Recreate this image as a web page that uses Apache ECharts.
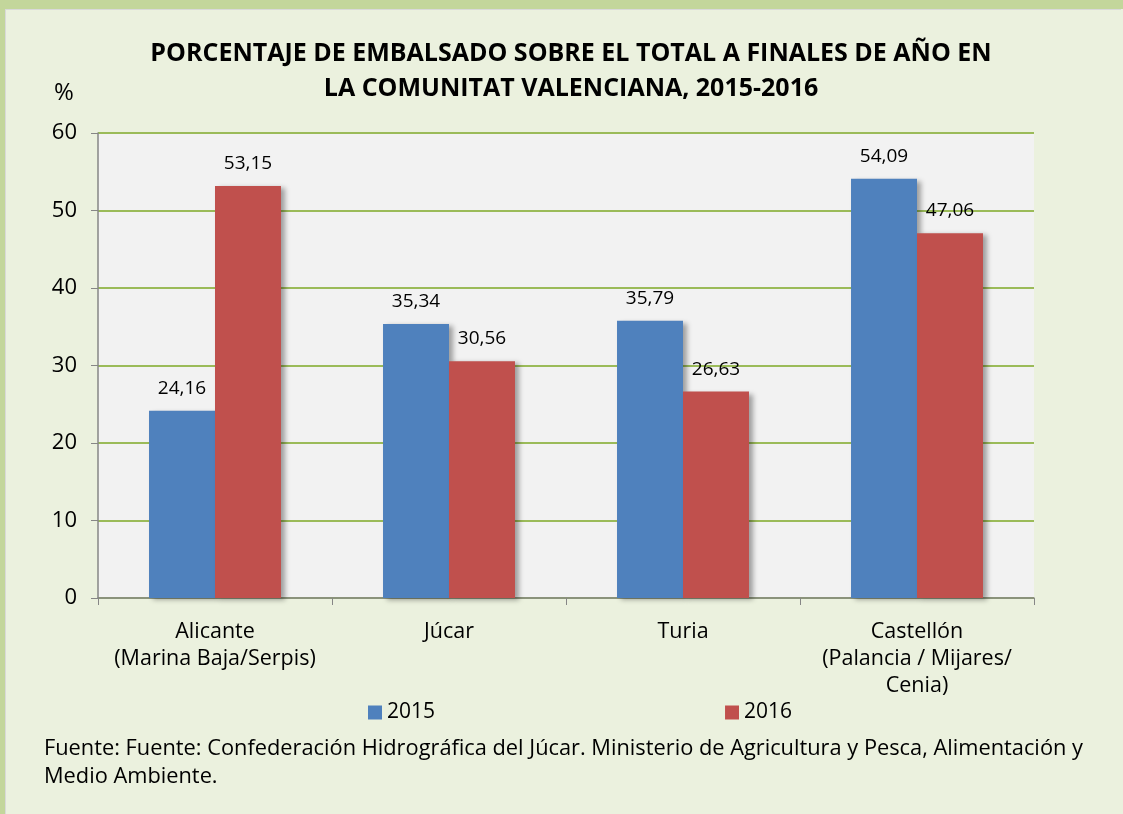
<!DOCTYPE html>
<html lang="es">
<head>
    <meta charset="utf-8">
    <title>Porcentaje de embalsado</title>
    <script src="https://cdn.jsdelivr.net/npm/echarts@6/dist/echarts.min.js"></script>
    <style>
        html, body { margin: 0; padding: 0; background: #EBF1DE; }
        #chart1 { width: 1123px; height: 814px; }
    </style>
</head>
<body>
<div id="chart1"></div>
<script type="text/javascript">
    // datos del gráfico
    var categorias = ['Alicante\n(Marina Baja/Serpis)', 'Júcar', 'Turia', 'Castellón\n(Palancia / Mijares/\nCenia)'];
    var datos2015 = [24.16, 35.34, 35.79, 54.09];
    var datos2016 = [53.15, 30.56, 26.63, 47.06];
    var ticksY = [0, 10, 20, 30, 40, 50, 60];

    var fuente = '"Open Sans", Calibri, sans-serif';
    var sombra = {
        shadowColor: 'rgba(0,0,0,0.35)',
        shadowBlur: 5,
        shadowOffsetX: 4,
        shadowOffsetY: 2
    };
    function etiqueta(p) {
        return p.value.toFixed(2).replace('.', ',');
    }

    var myEcharts = echarts.init(document.getElementById('chart1'));
    myEcharts.setOption({
        backgroundColor: '#EBF1DE',
        textStyle: { fontFamily: fuente },
        title: {
            text: 'PORCENTAJE DE EMBALSADO SOBRE EL TOTAL A FINALES DE AÑO EN\nLA COMUNITAT VALENCIANA, 2015-2016',
            left: 566,
            textAlign: 'center',
            top: 31,
            textStyle: { fontSize: 25, fontWeight: 'bold', color: '#000', lineHeight: 35, fontFamily: fuente }
        },
        graphic: [
            { type: 'rect', shape: { x: 0, y: 0, width: 1123, height: 9 }, style: { fill: '#C3D69B' } },
            { type: 'rect', shape: { x: 0, y: 0, width: 5, height: 814 }, style: { fill: '#C3D69B' } },
            { type: 'rect', shape: { x: 5, y: 9, width: 1116, height: 1 }, style: { fill: '#D9D9D9' } },
            { type: 'rect', shape: { x: 5, y: 9, width: 1, height: 805 }, style: { fill: '#D9D9D9' } },
            { type: 'text', left: 54, top: 81, style: { text: '%', fontSize: 24, fill: '#000', fontFamily: fuente } },
            {
                type: 'text', left: 44, top: 735,
                style: {
                    text: 'Fuente: Fuente: Confederación Hidrográfica del Júcar. Ministerio de Agricultura y Pesca, Alimentación y\nMedio Ambiente.',
                    fontSize: 21.8, lineHeight: 28, fill: '#000', fontFamily: fuente
                }
            }
        ],
        legend: {
            data: ['2015', '2016'],
            left: 363,
            top: 697,
            itemWidth: 14,
            itemHeight: 14,
            itemGap: 290,
            icon: 'rect',
            textStyle: { fontSize: 21, color: '#000', fontFamily: fuente }
        },
        grid: {
            left: 98,
            right: 89,
            top: 133,
            bottom: 216,
            show: true,
            backgroundColor: '#F2F2F2',
            borderWidth: 0
        },
        xAxis: {
            type: 'category',
            data: categorias,
            axisLine: { lineStyle: { color: '#868686', width: 1.5 } },
            axisTick: { show: true, length: 7, lineStyle: { color: '#868686' } },
            axisLabel: { interval: 0, fontSize: 21.5, lineHeight: 27, margin: 20, color: '#000', fontFamily: fuente }
        },
        yAxis: {
            type: 'value',
            min: ticksY[0],
            max: ticksY[ticksY.length - 1],
            interval: 10,
            axisLine: { show: true, lineStyle: { color: '#868686', width: 1.5 } },
            axisTick: { show: true, length: 7, lineStyle: { color: '#868686' } },
            axisLabel: { fontSize: 22, margin: 21, color: '#000', fontFamily: fuente },
            splitLine: { lineStyle: { color: '#9BBB59', width: 2 } }
        },
        series: [
            {
                name: '2015',
                type: 'bar',
                data: datos2015,
                barGap: '0%',
                barCategoryGap: '43.6%',
                itemStyle: Object.assign({ color: '#4F81BD' }, sombra),
                label: { show: true, position: 'top', distance: 13, fontSize: 19, color: '#000', formatter: etiqueta, fontFamily: fuente }
            },
            {
                name: '2016',
                type: 'bar',
                data: datos2016,
                itemStyle: Object.assign({ color: '#C0504D' }, sombra),
                label: { show: true, position: 'top', distance: 13, fontSize: 19, color: '#000', formatter: etiqueta, fontFamily: fuente }
            }
        ]
    });
</script>
</body>
</html>
